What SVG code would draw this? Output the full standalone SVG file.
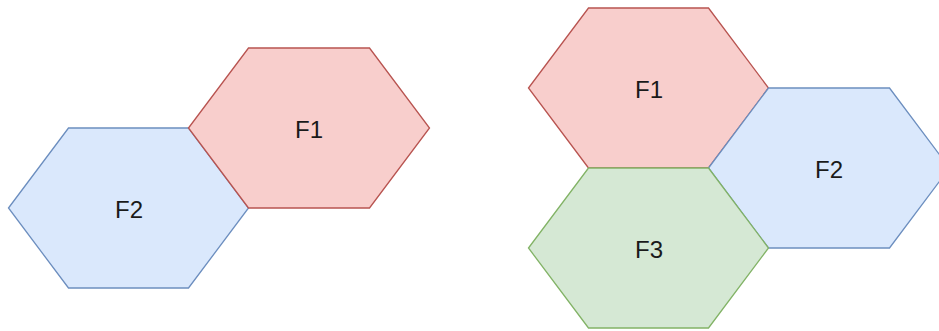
<svg xmlns="http://www.w3.org/2000/svg" width="939" height="331" viewBox="0 0 939 331">
<style>
.red{fill:#f8cecc;stroke:#b85450;stroke-width:1.3}
.blue{fill:#dae8fc;stroke:#6c8ebf;stroke-width:1.3}
.green{fill:#d5e8d4;stroke:#82b366;stroke-width:1.3}
text{font-family:"Liberation Sans",Arial,sans-serif;font-size:24px;fill:#1a1a1a;text-anchor:middle;dominant-baseline:central}
</style>
<rect width="939" height="331" fill="#ffffff"/>
<g id="left-F2">
<polygon class="blue" points="8.5,208 68.5,128 188.5,128 248.5,208 188.5,288 68.5,288"/>
<text x="129" y="209">F2</text>
</g>
<g id="left-F1">
<polygon class="red" points="188.5,128 248.5,48 369.5,48 429.5,128 369.5,208 248.5,208"/>
<text x="309" y="129">F1</text>
</g>
<g id="right-F1">
<polygon class="red" points="528.5,88 588.5,8 708.5,8 768.5,88 708.5,168 588.5,168"/>
<text x="649" y="89">F1</text>
</g>
<g id="right-F2">
<polygon class="blue" points="708.5,168 768.5,88 889.5,88 949.5,168 889.5,248 768.5,248"/>
<text x="829" y="169">F2</text>
</g>
<g id="right-F3">
<polygon class="green" points="528.5,248 588.5,168 708.5,168 768.5,248 708.5,328 588.5,328"/>
<text x="649" y="249">F3</text>
</g>
<g id="connectors"></g>
</svg>
